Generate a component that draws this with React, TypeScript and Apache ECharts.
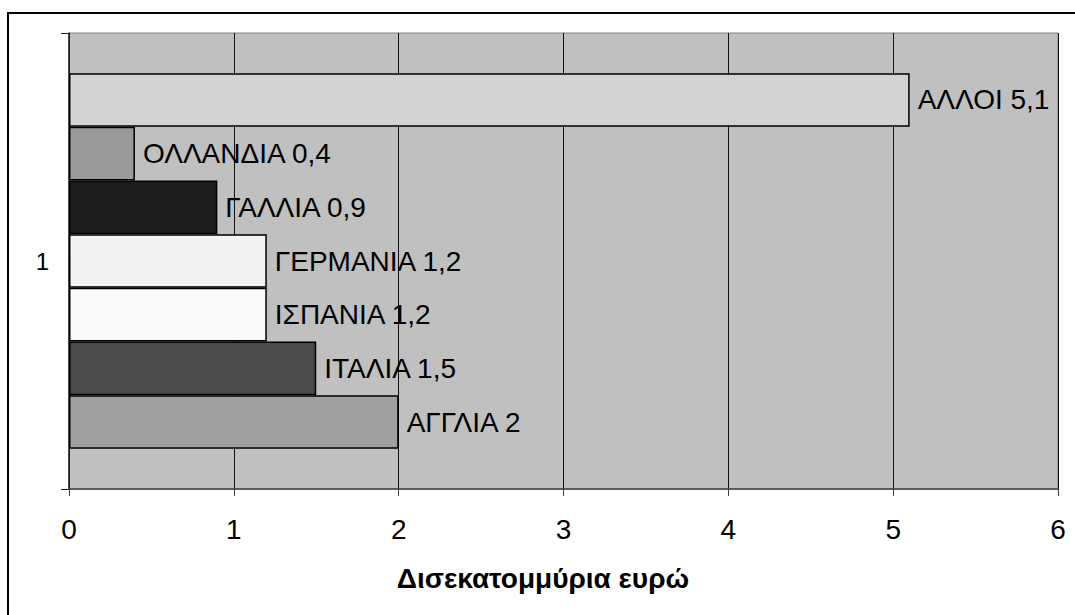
import React, { useEffect, useRef } from "react";
import * as echarts from "echarts";

// Data (top to bottom as drawn in the reference)
const categories = ["1"];
const countries = ["ΑΛΛΟΙ", "ΟΛΛΑΝΔΙΑ", "ΓΑΛΛΙΑ", "ΓΕΡΜΑΝΙΑ", "ΙΣΠΑΝΙΑ", "ΙΤΑΛΙΑ", "ΑΓΓΛΙΑ"];
const values = [5.1, 0.4, 0.9, 1.2, 1.2, 1.5, 2];
const xTicks = [0, 1, 2, 3, 4, 5, 6];
const axisTitle = "Δισεκατομμύρια ευρώ";

const palette = ["#d3d3d3", "#9a9a9a", "#1c1c1c", "#f3f3f3", "#f9f9f9", "#4a4a4a", "#a0a0a0"];
const FONT = "'Liberation Sans', Arial, Helvetica, sans-serif";

export default function App() {
  const ref = useRef<HTMLDivElement>(null);
  useEffect(() => {
    if (!ref.current) return;
    const chart = echarts.init(ref.current, undefined, { renderer: "svg" });
    const series = countries.map((name, i) => ({
      name,
      type: "bar" as const,
      data: [values[i]],
      barGap: "0%",
      barCategoryGap: "17.6%",
      itemStyle: { color: palette[i], borderColor: "#000", borderWidth: 1.5 },
      label: {
        show: true,
        position: "right" as const,
        distance: 8,
        fontFamily: FONT,
        fontSize: 28,
        color: "#000",
        formatter: (p: any) => `${p.seriesName} ${String(p.value).replace(".", ",")}`,
      },
    }));
    chart.setOption({
      animation: false,
      backgroundColor: "#ffffff",
      grid: {
        left: 69,
        top: 33,
        right: 17,
        bottom: 126,
        show: true,
        backgroundColor: "#c0c0c0",
        borderColor: "#808080",
        borderWidth: 1,
        containLabel: false,
      },
      xAxis: {
        type: "value",
        min: xTicks[0],
        max: xTicks[xTicks.length - 1],
        interval: 1,
        axisLine: { show: true, lineStyle: { color: "#404040", width: 1.5 } },
        axisTick: { show: true, length: 7, lineStyle: { color: "#404040", width: 1 } },
        splitLine: { show: true, lineStyle: { color: "#111", width: 1 } },
        axisLabel: { fontFamily: FONT, fontSize: 28, color: "#000", margin: 26 },
      },
      yAxis: {
        type: "category",
        data: categories,
        inverse: false,
        axisLine: { show: true, lineStyle: { color: "#222", width: 1.5 } },
        axisTick: { show: true, length: 8, inside: false, lineStyle: { color: "#222", width: 1 } },
        axisLabel: { fontFamily: FONT, fontSize: 24, color: "#000", margin: 20 },
      },
      series,
      graphic: [
        {
          type: "rect",
          shape: { x: 8, y: 13, width: 1100, height: 650 },
          style: { fill: "none", stroke: "#000", lineWidth: 2 },
          silent: true,
          z: 100,
        },
        {
          type: "text",
          x: 543,
          y: 578,
          style: {
            text: axisTitle,
            fontFamily: FONT,
            fontSize: 28,
            fontWeight: "bold",
            fill: "#000",
            textAlign: "center",
            textVerticalAlign: "middle",
          },
        },
      ],
    });
    return () => chart.dispose();
  }, []);
  return (
    <div
      ref={ref}
      style={{ position: "fixed", left: 0, top: 0, width: 1075, height: 615 }}
    />
  );
}
